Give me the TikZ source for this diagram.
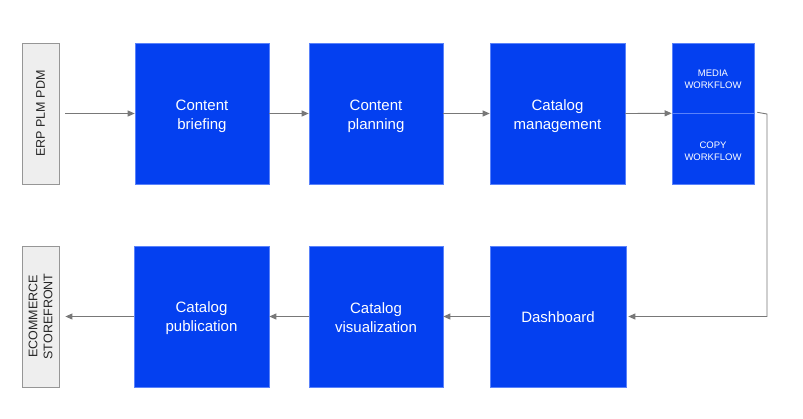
\documentclass[tikz,border=0pt]{standalone}
\usepackage{fontspec}
\setmainfont{Liberation Sans}
\usetikzlibrary{arrows.meta}
\definecolor{boxblue}{RGB}{4,64,240}
\definecolor{boxedge}{RGB}{90,130,250}
\definecolor{greyfill}{RGB}{238,238,238}
\definecolor{greyedge}{RGB}{150,150,150}
\definecolor{conncol}{RGB}{120,120,120}
\begin{document}
\begin{tikzpicture}[x=1pt,y=-1pt,
  bluebox/.style={fill=boxblue,draw=boxedge,line width=0.6pt,inner sep=0pt},
  bluetext/.style={text=white,align=center,inner sep=0pt,font=\fontsize{15}{19}\selectfont},
  wftext/.style={text=white,align=center,inner sep=0pt,font=\fontsize{9.5}{12}\selectfont},
  greybox/.style={fill=greyfill,draw=greyedge,line width=0.8pt,inner sep=0pt,
    minimum width=37pt,minimum height=141pt},
  greytext/.style={rotate=90,align=center,font=\fontsize{12.5}{15}\selectfont,text=black!85},
  conn/.style={draw=conncol,line width=0.9pt,-{Triangle[length=7pt,width=6pt]}}]
\useasboundingbox (0,0) rectangle (803,418);

% top row
\node[greybox] (erp) at (40.5,113.5) {};
\node[greytext] (erpt) at (erp.center) {ERP PLM PDM};
\node[bluebox,minimum width=134pt,minimum height=141pt] (brief) at (202,113.5) {};
\node[bluetext] (brieft) at ([yshift=-3pt]brief.center) {Content\\briefing};
\node[bluebox,minimum width=134pt,minimum height=141pt] (plan) at (376,113.5) {};
\node[bluetext] (plant) at ([yshift=-3pt]plan.center) {Content\\planning};
\node[bluebox,minimum width=135pt,minimum height=141pt] (mgmt) at (557.5,113.5) {};
\node[bluetext] (mgmtt) at ([yshift=-3pt]mgmt.center) {Catalog\\management};
\node[bluebox,minimum width=82pt,minimum height=70pt] (media) at (713,78) {};
\node[wftext] (mediat) at ([yshift=-1pt]media.center) {MEDIA\\WORKFLOW};
\node[bluebox,minimum width=82pt,minimum height=71pt] (copy) at (713,148.5) {};
\node[wftext] (copyt) at ([yshift=-3pt]copy.center) {COPY\\WORKFLOW};

% bottom row
\node[greybox] (ecom) at (40.5,316.5) {};
\node[greytext] (ecomt) at (ecom.center) {ECOMMERCE\\STOREFRONT};
\node[bluebox,minimum width=135pt,minimum height=141pt] (pub) at (201.5,316.5) {};
\node[bluetext] (pubt) at ([yshift=-2pt]pub.center) {Catalog\\publication};
\node[bluebox,minimum width=134pt,minimum height=141pt] (vis) at (376,316.5) {};
\node[bluetext] (vist) at ([yshift=-1.5pt]vis.center) {Catalog\\visualization};
\node[bluebox,minimum width=136pt,minimum height=141pt] (dash) at (558,316.5) {};
\node[bluetext] (dasht) at ([yshift=-1pt]dash.center) {Dashboard};

% connectors
\draw[conn,shorten <=6pt] (erp.east) -- (brief.west);
\draw[conn] (brief.east) -- (plan.west);
\draw[conn] (plan.east) -- (mgmt.west);
\draw[conn] (mgmt.east) -- (media.south west);
\coordinate (turn) at (767,114);
\draw[conn,shorten >=2pt] ([xshift=3pt,yshift=1pt]media.south east) -- (turn) |- (dash.east);
\draw[conn] (dash.west) -- (vis.east);
\draw[conn] (vis.west) -- (pub.east);
\draw[conn,shorten >=6pt] (pub.west) -- (ecom.east);
\end{tikzpicture}
\end{document}
